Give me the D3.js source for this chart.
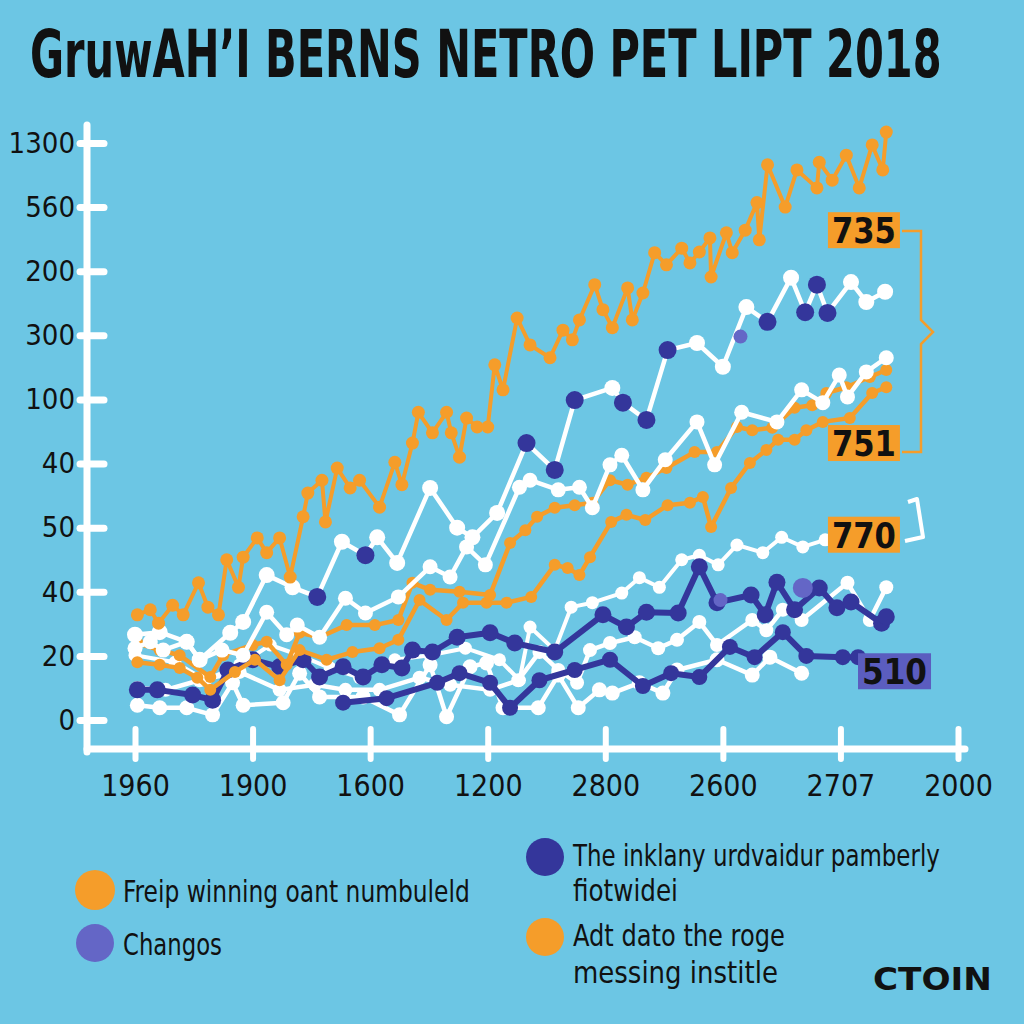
<!DOCTYPE html>
<html><head><meta charset="utf-8">
<script src="https://cdn.jsdelivr.net/npm/d3@7"></script>
<style>html,body{margin:0;padding:0;background:#6cc6e4;} svg{display:block}</style>
</head><body>
<svg id="c" width="1024" height="1024"></svg>
<script>
// ---------- data ----------
const titleText = "GruwAH\u2019I BERNS NETRO PET LIPT 2018";
const xLabels = ["1960","1900","1600","1200","2800","2600","2707","2000"];
const yLabels = ["0","20","40","50","40","100","300","200","560","1300"];

const orangeTop = [[0.2,16.4],[1.3,17.2],[2.0,15.1],[3.2,17.9],[4.1,16.4],[5.4,21.4],[6.2,17.6],[7.1,16.4],[7.8,25.0],[8.8,20.7],[9.2,25.4],[10.4,28.4],[11.2,26.1],[12.3,28.4],[13.2,22.3],[14.3,31.7],[14.7,35.4],[15.9,37.4],[16.2,30.9],[17.2,39.3],[18.3,36.2],[19.1,37.4],[20.8,33.2],[22.1,40.2],[22.7,36.7],[23.6,43.2],[24.1,48.0],[25.3,44.8],[26.5,48.0],[26.9,44.8],[27.6,41.0],[28.2,47.1],[29.1,45.7],[30.0,45.7],[30.6,55.4],[31.3,51.5],[32.5,62.7],[33.6,58.5],[35.3,56.5],[36.4,60.8],[37.2,59.3],[37.8,62.4],[39.1,67.9],[39.8,64.0],[40.6,61.2],[41.9,67.4],[42.3,62.4],[43.2,66.6],[44.2,72.9],[45.2,71.0],[46.5,73.6],[47.2,71.3],[48.0,73.0],[48.9,75.2],[49.0,69.1],[50.3,76.0],[50.8,72.9],[51.9,76.4],[52.9,80.7],[53.1,74.9],[53.8,86.6],[55.3,80.0],[56.3,85.8],[58.0,83.0],[58.2,87.0],[59.3,84.2],[60.5,88.1],[61.6,83.0],[62.7,89.7],[63.6,85.8],[63.9,91.7]];
const whiteUpper = [[0,13.3],[2.1,13.7],[4.4,12.2],[5.5,9.4],[8.1,13.6],[9.2,15.3],[11.2,22.6],[13.4,20.7],[15.5,19.2],[17.6,27.8],[19.6,25.7],[20.6,28.5],[22.3,24.5],[25.1,36.2],[27.4,30.0],[28.7,28.5],[30.8,32.3],[33.3,43.2],[35.7,39.0],[37.4,49.9],[40.6,51.8],[41.5,49.5],[43.5,46.8],[45.3,57.7],[47.8,58.8],[50.0,55.1],[52.0,64.4],[53.8,62.1],[55.8,69.0],[57.0,63.6],[58.0,67.9],[58.9,63.5],[60.9,68.3],[62.2,65.2],[63.8,66.8]];
const navyDots = [[15.5,19.2],[19.6,25.7],[33.3,43.2],[35.7,39.0],[37.4,49.9],[41.5,49.5],[43.5,46.8],[45.3,57.7],[53.8,62.1],[57.0,63.6],[58.0,67.9],[58.9,63.5]];
const lightDots = [[49.8,18.7],[56.8,20.6],[51.5,59.8]];
const whiteMiddle = [[0,11.2],[1.3,12.2],[2.4,10.9],[4.4,12.2],[5.5,9.4],[7.4,10.9],[9.2,10.1],[11.2,16.8],[12.9,13.3],[13.8,14.8],[15.7,12.9],[17.9,19.0],[19.6,16.7],[22.4,19.2],[25.1,23.9],[26.8,22.3],[28.2,27.0],[29.8,24.2],[32.7,36.3],[33.6,37.4],[36.0,35.9],[37.8,36.3],[38.9,33.1],[40.4,39.8],[41.4,41.3],[43.2,35.9],[45.1,40.6],[47.8,46.5],[49.3,39.8],[51.6,48.0],[54.6,46.5],[56.7,51.5],[58.5,49.5],[59.9,53.8],[60.6,50.4],[62.2,54.3],[63.9,56.5]];
const orangeMidA = [[0.2,12.0],[2.1,10.9],[3.8,10.1],[6.4,6.7],[7.5,10.1],[10.0,11.7],[11.2,12.2],[12.9,8.6],[14.0,13.6],[15.7,12.9],[18.0,14.8],[20.4,14.8],[22.4,15.6],[23.6,21.4],[25.1,20.3],[27.6,20.0],[30.2,19.5],[31.9,27.6],[33.2,29.6],[34.2,31.7],[35.7,33.1],[37.4,33.5],[38.9,33.9],[40.4,37.4],[41.9,36.7],[43.5,37.8],[45.2,39.3],[47.6,41.8],[49.5,41.8],[51.2,45.7],[52.5,45.2],[54.2,45.6],[56.1,48.7],[57.6,49.1],[58.8,51.0],[60.5,51.9],[62.5,53.5],[63.9,54.6]];
const orangeMidB = [[0.2,9.0],[2.1,8.6],[3.8,8.1],[5.3,6.6],[6.4,4.7],[8.5,7.5],[10.2,9.4],[12.3,6.2],[14.0,10.9],[16.3,9.4],[18.5,10.6],[20.8,11.2],[22.4,12.5],[24.2,18.7],[26.5,15.6],[27.9,18.3],[29.9,18.3],[31.6,18.3],[33.7,19.2],[35.7,24.2],[36.8,23.7],[37.8,22.6],[38.7,25.4],[40.5,30.9],[41.8,32.0],[43.4,31.2],[45.3,33.5],[47.2,33.9],[48.3,34.8],[49.0,30.1],[50.7,36.2],[52.3,40.1],[53.7,42.1],[54.7,43.7],[56.1,43.7],[57.1,45.2],[58.5,46.5],[60.8,47.1],[62.7,51.0],[63.9,51.9]];
const whiteLow = [[0,10.1],[3.4,9.0],[6.0,6.2],[8.9,8.6],[11.5,11.7],[14.0,10.1],[16.6,8.1],[19.1,6.6],[22.1,9.4],[25.1,10.1],[28.1,11.2],[31.0,9.4],[32.7,6.2],[33.6,14.5],[35.7,10.9],[37.1,17.6],[38.9,18.3],[41.4,19.8],[42.9,22.2],[44.6,20.7],[46.5,25.0],[48.0,25.7],[49.6,24.2],[51.2,27.3],[53.4,26.1],[55.0,28.5],[56.8,27.0],[58.7,28.1]];
const whiteBottomA = [[0.2,2.3],[2.1,1.9],[4.4,1.9],[6.6,0.8],[8.3,5.8],[9.2,2.3],[12.6,2.7],[14.0,7.3],[15.7,3.6],[19.4,3.6],[22.5,0.8],[25.1,8.6],[26.5,0.5],[28.5,8.3],[29.9,8.9],[31.3,1.9],[34.3,1.9],[36.0,7.0],[37.7,1.9],[39.5,4.7],[40.6,4.2],[42.9,5.8],[44.9,4.2],[46.1,7.8],[49.5,9.4],[52.5,7.0],[54.0,9.8],[56.7,7.3]];
const whiteBottomB = [[0.2,5.0],[2.6,4.7],[5.5,6.2],[8.9,7.5],[12.3,4.7],[15.3,5.5],[17.9,4.7],[20.8,4.7],[24.2,6.6],[26.8,5.5],[30.2,4.7],[32.6,6.2],[34.4,10.6],[36.0,7.8],[37.6,5.8],[38.7,10.9],[40.4,12.0],[42.5,12.9],[44.5,11.2],[46.1,12.5],[48.0,15.3],[49.5,11.7],[52.5,15.6],[53.7,14.0],[55.1,17.2],[56.7,15.6],[60.6,21.4],[62.5,15.6],[63.9,20.7]];
const navyUpper = [[0.2,4.7],[1.9,4.7],[4.9,3.9],[6.6,3.1],[7.9,7.8],[10.0,9.4],[12.3,8.3],[14.3,9.4],[15.7,6.7],[17.7,8.3],[19.4,6.7],[21.0,8.6],[22.7,8.1],[23.6,10.9],[25.3,10.6],[27.4,12.9],[30.2,13.6],[32.3,12.0],[35.7,10.6],[39.8,16.4],[41.8,14.5],[43.5,16.8],[46.2,16.7],[48.0,23.9],[49.5,18.3],[52.4,19.5],[53.6,16.4],[54.6,21.5],[56.1,17.2],[58.2,20.6],[59.7,17.5],[60.9,18.4],[63.5,15.1],[63.9,16.1]];
const navyLower = [[17.7,2.7],[21.4,3.4],[25.7,5.8],[27.6,7.3],[30.2,5.8],[31.9,1.9],[34.4,6.2],[37.4,7.8],[40.4,9.4],[43.2,5.3],[45.6,7.3],[48.0,6.7],[50.6,11.4],[52.7,9.8],[55.1,13.7],[57.1,10.0],[60.2,9.8],[61.5,9.8]];

const boxLabels = ["735","751","770","510"];
const boxX = [62.0, 62.0, 62.0, 64.6];
const boxY = [76.4, 43.2, 28.9, 7.6];

const legendLeft = ["Freip winning oant numbuleld","Changos"];
const legendRight = [["The inklany urdvaidur pamberly","fiotwidei"],["Adt dato the roge","messing institle"]];
const brand = "CTOIN";

// ---------- style ----------
const BG = "#6cc6e4", OR = "#f59d2a", NV = "#34369b", WH = "#ffffff", LP = "#6466c6";
const NARROW = "'Liberation Sans Narrow','DejaVu Sans Condensed','Arial Narrow',sans-serif";

const svg = d3.select("#c");
svg.append("rect").attr("width",1024).attr("height",1024).attr("fill",BG);

const x = d3.scaleLinear().domain([0,70]).range([135,958]);
const y = d3.scaleLinear().domain([0,90]).range([720,143]);

// scale a text horizontally (about its left x) to a target width
function fit(t, x0, target){
  const w = t.node().getComputedTextLength();
  if (w > 0) t.attr("transform", `translate(${x0},0) scale(${target/w},1) translate(${-x0},0)`);
  return t;
}

// title
const title = svg.append("text").attr("x",30).attr("y",77).text(titleText)
  .attr("font-family",NARROW).attr("font-weight","bold").attr("font-size",66).attr("fill","#111");
fit(title, 30, 912);

// axes
const yAxis = d3.axisLeft(y).tickValues(d3.range(0,91,10)).tickFormat((d,i)=>yLabels[i]).tickSizeInner(-17).tickSizeOuter(0).tickPadding(12);
const gy = svg.append("g").attr("transform","translate(87,0)").call(yAxis);
gy.select(".domain").remove();
gy.selectAll(".tick line").attr("x1",-7).attr("stroke",WH).attr("stroke-width",7).attr("stroke-linecap","round");
gy.selectAll(".tick text").attr("x",-12).attr("font-family",NARROW).attr("font-size",29).attr("fill","#111");
svg.append("line").attr("x1",87).attr("x2",87).attr("y1",125).attr("y2",752).attr("stroke",WH).attr("stroke-width",7).attr("stroke-linecap","round");

const xAxis = d3.axisBottom(x).tickValues(d3.range(0,71,10)).tickFormat((d,i)=>xLabels[i]).tickSizeInner(10).tickSizeOuter(0).tickPadding(14);
const gx = svg.append("g").attr("transform","translate(0,749)").call(xAxis);
gx.select(".domain").remove();
gx.selectAll(".tick line").attr("y1",-20).attr("stroke",WH).attr("stroke-width",6).attr("stroke-linecap","round");
gx.selectAll(".tick text").attr("font-family",NARROW).attr("font-size",30).attr("fill","#111").attr("dy","0.78em");
svg.append("line").attr("x1",87).attr("x2",965).attr("y1",749).attr("y2",749).attr("stroke",WH).attr("stroke-width",7).attr("stroke-linecap","round");

// series
const line = d3.line().x(d=>x(d[0])).y(d=>y(d[1]));
function series(data, color, w, r){
  const g = svg.append("g");
  g.append("path").datum(data).attr("d",line).attr("fill","none").attr("stroke",color)
    .attr("stroke-width",w).attr("stroke-linejoin","round");
  g.selectAll("circle").data(data).join("circle").attr("cx",d=>x(d[0])).attr("cy",d=>y(d[1])).attr("r",r).attr("fill",color);
}
series(whiteBottomA, WH, 4.5, 7.5);
series(whiteBottomB, WH, 4.5, 7);
series(whiteLow, WH, 4, 6.5);
series(navyLower, NV, 6, 8);
series(navyUpper, NV, 6, 8.5);
series(orangeMidB, OR, 4.5, 6);
series(orangeMidA, OR, 4.5, 6);
series(whiteMiddle, WH, 4.5, 7.5);
series(whiteUpper, WH, 4.5, 8);
series(orangeTop, OR, 4, 6.5);
svg.append("g").selectAll("circle").data(navyDots).join("circle")
  .attr("cx",d=>x(d[0])).attr("cy",d=>y(d[1])).attr("r",9).attr("fill",NV);
svg.append("g").selectAll("circle").data(lightDots).join("circle")
  .attr("cx",d=>x(d[0])).attr("cy",d=>y(d[1])).attr("r",(d,i)=>i===1?10:7).attr("fill",LP);

// brackets
svg.append("path").attr("d","M902,231 H921 V320 L933,332 L921,344 V452 H902")
  .attr("fill","none").attr("stroke",OR).attr("stroke-width",2.5);
svg.append("path").attr("d","M905,541 L923,537 L917,499 L908,502")
  .attr("fill","none").attr("stroke",WH).attr("stroke-width",4).attr("stroke-linejoin","round");

// boxes
const boxFill = [OR,OR,OR,"#5b5dbf"];
const bw = [72,72,72,73];
boxLabels.forEach((lab,i)=>{
  const cx = x(boxX[i]), cy = y(boxY[i]);
  svg.append("rect").attr("x",cx-bw[i]/2).attr("y",cy-18).attr("width",bw[i]).attr("height",36).attr("fill",boxFill[i]);
  const t = svg.append("text").attr("x",cx-bw[i]/2+4).attr("y",cy+13).text(lab)
    .attr("font-family","'DejaVu Sans',sans-serif").attr("font-weight","bold").attr("font-size",35).attr("fill","#111");
  fit(t, cx-bw[i]/2+4, bw[i]-8);
});

// legend
function txt(s,xp,yp,len){
  const t = svg.append("text").attr("x",xp).attr("y",yp).text(s)
    .attr("font-family",NARROW).attr("font-size",31).attr("fill","#111");
  fit(t, xp, len);
}
svg.append("circle").attr("cx",95).attr("cy",890).attr("r",20).attr("fill",OR);
txt(legendLeft[0],123,902,347);
svg.append("circle").attr("cx",95).attr("cy",943).attr("r",19).attr("fill",LP);
txt(legendLeft[1],123,955,99);
svg.append("circle").attr("cx",545).attr("cy",857).attr("r",19).attr("fill",NV);
txt(legendRight[0][0],573,866,367);
txt(legendRight[0][1],573,901,105);
svg.append("circle").attr("cx",545).attr("cy",937).attr("r",19).attr("fill",OR);
txt(legendRight[1][0],573,946,212);
txt(legendRight[1][1],573,983,205);
const b = svg.append("text").attr("x",873).attr("y",990).text(brand)
  .attr("font-family","'DejaVu Sans',sans-serif").attr("font-weight","bold").attr("font-size",32).attr("fill","#111");
fit(b, 873, 119);
</script>
</body></html>
